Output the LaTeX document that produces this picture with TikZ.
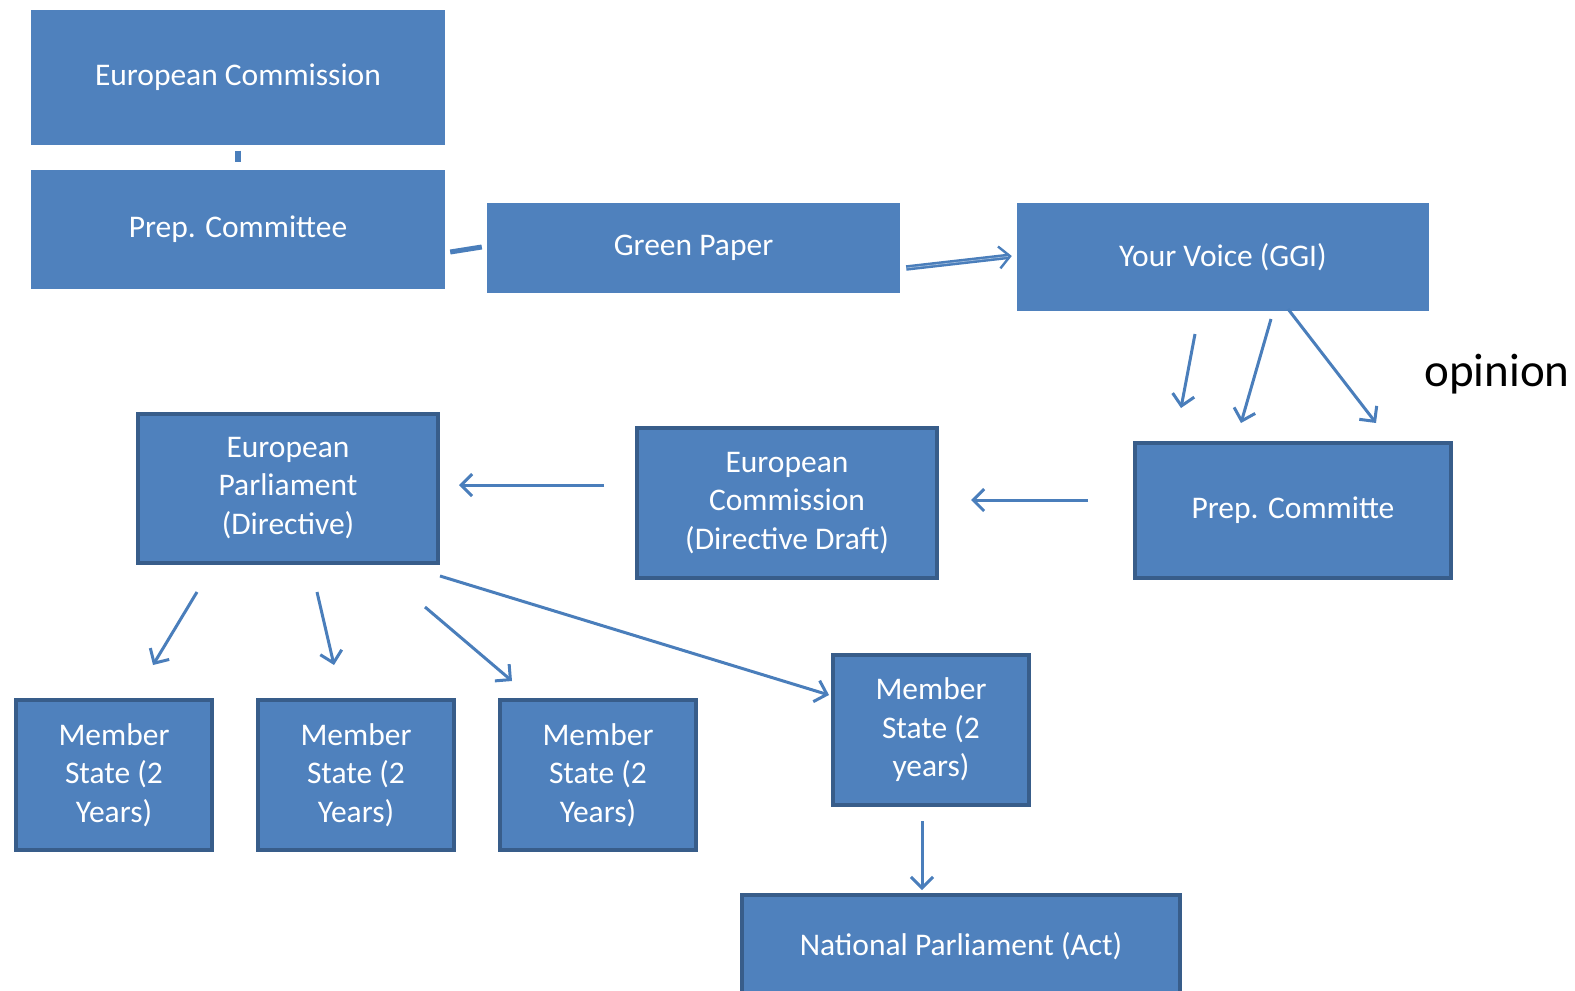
\documentclass[tikz,border=0pt]{standalone}
\usepackage{fontspec}
\setmainfont{Carlito}
\usetikzlibrary{arrows.meta}
\definecolor{boxblue}{RGB}{79,129,189}
\definecolor{boxedge}{RGB}{56,93,138}
\definecolor{linkblue}{RGB}{74,126,187}
\begin{document}
\begin{tikzpicture}[x = 1pt, y = -1pt,
    box/.style = {fill = boxblue, text = white, inner sep = 0pt, align = center,
                  font = \fontsize{31.5}{38.5}\selectfont},
    framed/.style = {box, draw = boxedge, line width = 4pt},
    link/.style = {draw = linkblue, line width = 3pt, -{Straight Barb[length = 11pt, width = 22pt]}},
    plain/.style = {draw = linkblue, line width = 5pt}]
  \useasboundingbox (0,0) rectangle (1575,991);
  \node[box, minimum width = 414pt, minimum height = 135pt] (ec) at (238,77) {European Commission};
  \node[box, minimum width = 414pt, minimum height = 119pt] (prep) at (238,229) {Prep. Committee};
  \node[box, minimum width = 413pt, minimum height = 90pt] (green) at (693.5,248) {Green Paper};
  \node[box, minimum width = 412pt, minimum height = 108pt] (voice) at (1223,257) {Your Voice (GGI)};
  \node[framed, minimum width = 316pt, minimum height = 135pt] (prep2) at (1293,510) {Prep. Committe};
  \node[framed, minimum width = 300pt, minimum height = 150pt] (draft) at (787,503) {European\\Commission\\(Directive Draft)};
  \node[framed, minimum width = 300pt, minimum height = 149pt] (parl) at (288,488) {European\\Parliament\\(Directive)};
  \node[framed, minimum width = 196pt, minimum height = 150pt] (ms1) at (114,775) {Member\\State (2\\Years)};
  \node[framed, minimum width = 196pt, minimum height = 150pt] (ms2) at (356,775) {Member\\State (2\\Years)};
  \node[framed, minimum width = 196pt, minimum height = 150pt] (ms3) at (598,775) {Member\\State (2\\Years)};
  \node[framed, minimum width = 196pt, minimum height = 150pt] (ms4) at (931,730) {Member\\State (2\\years)};
  \node[framed, minimum width = 438pt, minimum height = 102pt] (nat) at (961,946) {National Parliament (Act)};
  \node[font = \fontsize{47}{56}\selectfont] (opinion) at (1497,374) {opinion};

  \coordinate (v1) at (1195,334);  \coordinate (p1) at (1181,408);
  \coordinate (v2) at (1271,319);  \coordinate (p2) at (1241,423);
  \coordinate (v3) at (1288,309);  \coordinate (p3) at (1376,423);
  \coordinate (e1) at (197,592);   \coordinate (m1) at (153,665);
  \coordinate (e2) at (317,592);   \coordinate (m2) at (334,665);
  \coordinate (e3) at (425,607);   \coordinate (m3) at (512,681);
  \coordinate (e4) at (440,576);   \coordinate (m4) at (829,695);

  \path[plain, line width = 6pt] ([yshift = -6pt]ec.south) -- ([yshift = 7pt]prep.north);
  \path[plain] ([shift = {(5pt,-23pt)}]prep.east) -- ([shift = {(-5pt,1pt)}]green.west);
  \path[link, line width = 2.4pt, double = boxblue!55!white, double distance = 0.7pt]
    ([shift = {(6pt,-20pt)}]green.east) -- ([shift = {(-5pt,1pt)}]voice.west);
  \path (v1) edge[link] (p1)
        (v2) edge[link] (p2)
        (v3) edge[link] (p3);
  \path ([shift = {(-45pt,10pt)}]prep2.west) edge[link] ([shift = {(32pt,3pt)}]draft.east)
        ([shift = {(-31pt,18pt)}]draft.west) edge[link] ([shift = {(19pt,3pt)}]parl.east);
  \path (e1) edge[link] (m1)
        (e2) edge[link] (m2)
        (e3) edge[link] (m3)
        (e4) edge[link] (m4);
  \path ([shift = {(-9pt,-14pt)}]ms4.south) edge[link] ([shift = {(-39pt,3pt)}]nat.north);
\end{tikzpicture}
\end{document}
